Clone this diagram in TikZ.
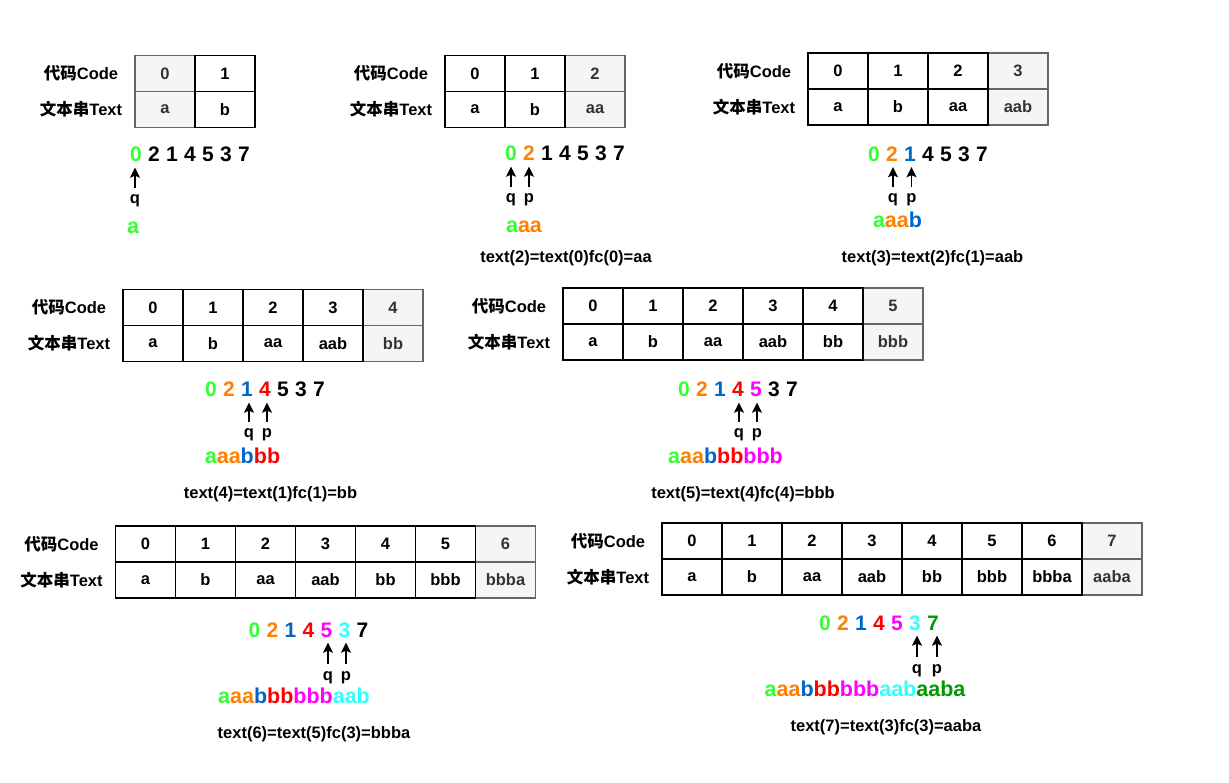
\documentclass[tikz,border=0pt]{standalone}
\usepackage{fontspec}
\setmainfont{Liberation Sans}
\newfontfamily\cjk{Noto Sans CJK SC}
\usetikzlibrary{arrows.meta}

\definecolor{cA}{RGB}{51,255,51}
\definecolor{cB}{RGB}{255,128,0}
\definecolor{cC}{RGB}{0,102,204}
\definecolor{cD}{RGB}{255,0,0}
\definecolor{cE}{RGB}{255,0,255}
\definecolor{cF}{RGB}{51,255,255}
\definecolor{cG}{RGB}{0,153,0}
\definecolor{newfill}{RGB}{245,245,245}
\definecolor{newline}{RGB}{102,102,102}
\definecolor{newtext}{RGB}{51,51,51}

\tikzset{
  cell/.style={draw=black, line width=1.2pt, minimum width=60pt, minimum height=36pt, inner sep=0pt, font=\bfseries\fontsize{16.5}{18}\selectfont},
  newcell/.style={cell, draw=newline, fill=newfill, text=newtext},
  rowlabel/.style={inner sep=0pt, font=\bfseries\fontsize{16.5}{18}\selectfont},
  digit/.style={anchor=base, inner sep=0pt, text height=15pt, text depth=0pt, font=\bfseries\fontsize{21}{24}\selectfont},
  ptrlabel/.style={anchor=base, inner sep=0pt, text height=9pt, text depth=0pt, font=\bfseries\fontsize{16.5}{18}\selectfont},
  outstr/.style={anchor=base, inner sep=0pt, font=\bfseries\fontsize{21.5}{24}\selectfont},
  formula/.style={anchor=base, inner sep=0pt, font=\bfseries\fontsize{16.5}{18}\selectfont},
  ptr/.style={-{Stealth[length=10pt,width=10pt,inset=2pt]}, line width=1.5pt, shorten <=7pt, shorten >=5.5pt},
}

% #1 name, #2 left, #3 top, #4 new code, #5 new text, #6 older cells
\newcommand\codetable[6]{%
  \node[rowlabel] (#1lc) at (#2-54,#3+18) {{\cjk 代码}Code};
  \node[rowlabel] (#1lt) at (#2-54,#3+54) {{\cjk 文本串}Text};
  \node[newcell] (#1c#4) at ({#2+30+60*#4},#3+18) {#4};
  \node[newcell] (#1t#4) at ({#2+30+60*#4},#3+54) {#5};
  \foreach \i/\s in {#6} {
    \node[cell] (#1c\i) at ({#2+30+60*\i},#3+18) {\i};
    \node[cell] (#1t\i) at ({#2+30+60*\i},#3+54) {\s};
  }}

% #1 name, #2 x of first digit, #3 baseline, #4 how many coloured
\newcommand\codeseq[4]{%
  \foreach \n/\d/\c in {0/0/cA,1/2/cB,2/1/cC,3/4/cD,4/5/cE,5/3/cF,6/7/cG} {
    \ifnum\n<#4 \edef\dc{\c}\else\def\dc{black}\fi
    \node[digit, text=\dc] (#1d\n) at ({#2+18*\n},#3) {\d};
  }}

\begin{document}
\begin{tikzpicture}[x=1pt,y=-1pt]
  \useasboundingbox (0,0) rectangle (1229,783);

  % step 1
  \codetable{t1}{135}{55.5}{0}{a}{1/b}
  \codeseq{s1}{136}{162}{1}
  \node[ptrlabel] (q1) at (135,204) {q};
  \draw[ptr] (q1.north) -- (q1.north |- s1d0.south);
  \node[outstr] (w1) at (133,234) {\textcolor{cA}{a}};

  % step 2
  \codetable{t2}{445}{55.5}{2}{aa}{0/a,1/b}
  \codeseq{s2}{511}{161}{2}
  \node[ptrlabel] (q2) at (511,203) {q};
  \node[ptrlabel] (p2) at (529,203) {p};
  \draw[ptr] (q2.north) -- (q2.north |- s2d0.south);
  \draw[ptr] (p2.north) -- (p2.north |- s2d1.south);
  \node[outstr] (w2) at (524,233) {\textcolor{cA}{a}\textcolor{cB}{aa}};
  \node[formula] (f2) at (566,262.5) {text(2)=text(0)fc(0)=aa};

  % step 3
  \codetable{t3}{808}{53}{3}{aab}{0/a,1/b,2/aa}
  \codeseq{s3}{874}{161.5}{3}
  \node[ptrlabel] (q3) at (893,203) {q};
  \node[ptrlabel] (p3) at (911.5,203) {p};
  \draw[ptr] (q3.north) -- (q3.north |- s3d1.south);
  \draw[ptr] (p3.north) -- (p3.north |- s3d2.south);
  \node[outstr] (w3) at (897.5,228) {\textcolor{cA}{a}\textcolor{cB}{aa}\textcolor{cC}{b}};
  \node[formula] (f3) at (932.5,262.5) {text(3)=text(2)fc(1)=aab};

  % step 4
  \codetable{t4}{123}{289.5}{4}{bb}{0/a,1/b,2/aa,3/aab}
  \codeseq{s4}{211}{397}{4}
  \node[ptrlabel] (q4) at (249,438) {q};
  \node[ptrlabel] (p4) at (267,438) {p};
  \draw[ptr] (q4.north) -- (q4.north |- s4d2.south);
  \draw[ptr] (p4.north) -- (p4.north |- s4d3.south);
  \node[outstr] (w4) at (242.5,464) {\textcolor{cA}{a}\textcolor{cB}{aa}\textcolor{cC}{b}\textcolor{cD}{bb}};
  \node[formula] (f4) at (270.5,498) {text(4)=text(1)fc(1)=bb};

  % step 5
  \codetable{t5}{563}{288}{5}{bbb}{0/a,1/b,2/aa,3/aab,4/bb}
  \codeseq{s5}{684}{397}{5}
  \node[ptrlabel] (q5) at (739,438) {q};
  \node[ptrlabel] (p5) at (757,438) {p};
  \draw[ptr] (q5.north) -- (q5.north |- s5d3.south);
  \draw[ptr] (p5.north) -- (p5.north |- s5d4.south);
  \node[outstr] (w5) at (725.5,463) {\textcolor{cA}{a}\textcolor{cB}{aa}\textcolor{cC}{b}\textcolor{cD}{bb}\textcolor{cE}{bbb}};
  \node[formula] (f5) at (743,498) {text(5)=text(4)fc(4)=bbb};

  % step 6
  \codetable{t6}{115.5}{526}{6}{bbba}{0/a,1/b,2/aa,3/aab,4/bb,5/bbb}
  \codeseq{s6}{254.5}{637}{6}
  \node[ptrlabel] (q6) at (328,680) {q};
  \node[ptrlabel] (p6) at (346,680) {p};
  \draw[ptr] (q6.north) -- (q6.north |- s6d4.south);
  \draw[ptr] (p6.north) -- (p6.north |- s6d5.south);
  \node[outstr] (w6) at (294,703) {\textcolor{cA}{a}\textcolor{cB}{aa}\textcolor{cC}{b}\textcolor{cD}{bb}\textcolor{cE}{bbb}\textcolor{cF}{aab}};
  \node[formula] (f6) at (314,738) {text(6)=text(5)fc(3)=bbba};

  % step 7
  \codetable{t7}{662}{523}{7}{aaba}{0/a,1/b,2/aa,3/aab,4/bb,5/bbb,6/bbba}
  \codeseq{s7}{825}{630}{7}
  \node[ptrlabel] (q7) at (917,673) {q};
  \node[ptrlabel] (p7) at (937,673) {p};
  \draw[ptr] (q7.north) -- (q7.north |- s7d5.south);
  \draw[ptr] (p7.north) -- (p7.north |- s7d6.south);
  \node[outstr] (w7) at (865,696.5) {\textcolor{cA}{a}\textcolor{cB}{aa}\textcolor{cC}{b}\textcolor{cD}{bb}\textcolor{cE}{bbb}\textcolor{cF}{aab}\textcolor{cG}{aaba}};
  \node[formula] (f7) at (886,731.5) {text(7)=text(3)fc(3)=aaba};
\end{tikzpicture}
\end{document}
